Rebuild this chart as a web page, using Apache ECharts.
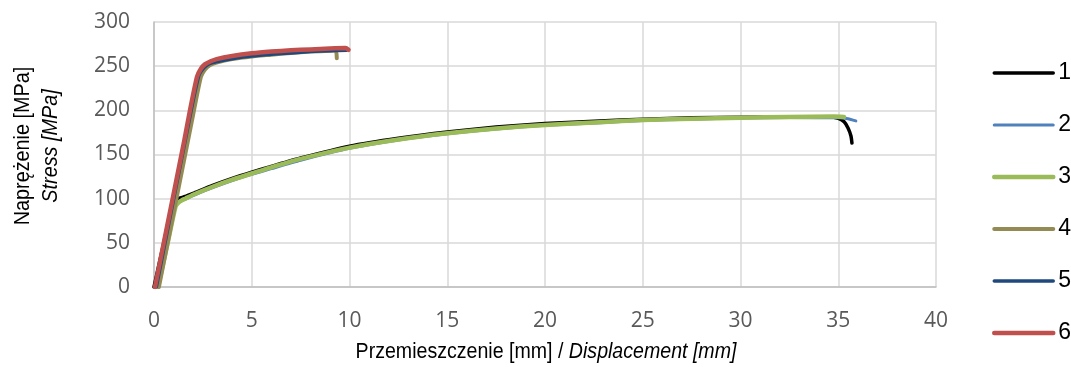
<!DOCTYPE html>
<html>
<head>
<meta charset="utf-8">
<script src="https://cdn.jsdelivr.net/npm/echarts@6/dist/echarts.min.js"></script>
<style>
html,body{margin:0;padding:0;background:#fff;}
#chart{width:1071px;height:367px;}
</style>
</head>
<body>
<div id="chart"></div>
<script>
// ---- Data (displacement [mm], stress [MPa]) ----
const seriesNames = ['1', '2', '3', '4', '5', '6'];
const xTicks = [0, 5, 10, 15, 20, 25, 30, 35, 40];
const yTicks = [0, 50, 100, 150, 200, 250, 300];

const sample1 = [[0,0],[0.5,50],[0.95,95],[1.1,98.5],[1.3,100.5],[1.6,102.5],[2,106],[3,115],[4,123],[5,130],[6,136.5],[7.5,146],[10,159.5],[12.5,168.5],[15,175.5],[17.5,181],[20,185],[22.8,188],[25,190],[27.5,191.5],[30,192.2],[32.5,192.6],[34.5,192.5],[35,191],[35.3,187],[35.5,180],[35.65,171],[35.7,163]];
const sample2 = [[0.1,0],[0.6,52],[1.05,92],[1.2,95.5],[1.4,98],[1.6,99.5],[2,103.5],[3,112.5],[4,120.5],[5,127.5],[6,134],[7.5,143.5],[10,157],[12.5,166.5],[15,173.5],[17.5,179],[20,183],[22.8,186],[25,188.5],[27.5,190],[30,191.2],[32.5,191.8],[35,191.5],[35.5,190.5],[35.9,188]];
const sample3 = [[0.2,0],[0.7,50],[1.1,91],[1.25,95.5],[1.45,98.5],[1.6,100],[2,104.5],[3,113.5],[4,121.5],[5,128.5],[6,135.5],[7.5,145],[10,157.8],[12.5,167],[15,174],[17.5,179.5],[20,183.5],[22.8,186.5],[25,189],[27.5,190.5],[30,191.7],[32.5,192.4],[34.8,192.9],[35.3,192.5]];
const sample4 = [[0.25,0],[2.0,195],[2.4,238],[2.6,246],[2.85,251],[3.2,254],[4,258],[5,261],[6,263],[7,265],[8,266.5],[9,267.5],[9.3,268],[9.35,259]];
const sample5 = [[0.12,0],[1.9,200],[2.3,240],[2.5,247],[2.7,251],[3,254],[3.5,256.5],[4,258.5],[5,261.5],[6,263.5],[7,265],[8,266.5],[9,267.5],[9.85,268]];
const sample6 = [[0.05,0],[0.5,50],[1,105],[1.55,166],[1.84,200],[2.2,238],[2.4,247],[2.6,252],[2.9,255.5],[3.2,258],[4,261.5],[5,264.5],[6,266.5],[7,268],[8,269],[9,270],[9.8,270.5],[9.95,268.5]];

const seriesData = [sample1, sample2, sample3, sample4, sample5, sample6];
const colors = ['#000000', '#4f81bd', '#9bbb59', '#948a54', '#1f497d', '#c0504d'];
const widths = [3.5, 3, 4.5, 4, 3.5, 4.5];

const chart = echarts.init(document.getElementById('chart'), null, {renderer: 'canvas'});
const tickFont = {fontFamily: 'Open Sans', fontSize: 21, color: '#595959'};
const titleFont = 'Liberation Sans, Arial, sans-serif';

chart.setOption({
  animation: false,
  backgroundColor: '#ffffff',
  grid: {left: 154, right: 135, top: 22, bottom: 80, containLabel: false},
  legend: {
    orient: 'vertical',
    left: 992,
    top: 61,
    padding: 0,
    itemWidth: 59,
    itemHeight: 14,
    itemGap: 28,
    data: seriesNames,
    itemStyle: {opacity: 0},
    lineStyle: {width: 'inherit', cap: 'round'},
    textStyle: {fontFamily: 'Liberation Sans', fontSize: 23, lineHeight: 24, color: '#000000', padding: [0,0,0,0]}
  },
  xAxis: {
    type: 'value', min: xTicks[0], max: xTicks[xTicks.length-1], interval: 5,
    axisLine: {show: true, onZero: false, lineStyle: {color: '#bfbfbf', width: 1.5}},
    axisTick: {show: false},
    axisLabel: Object.assign({margin: 24}, tickFont),
    splitLine: {show: true, lineStyle: {color: '#d9d9d9', width: 1.5}}
  },
  yAxis: {
    type: 'value', min: yTicks[0], max: yTicks[yTicks.length-1], interval: 50,
    axisLine: {show: true, lineStyle: {color: '#bfbfbf', width: 1.5}},
    axisTick: {show: false},
    axisLabel: Object.assign({margin: 24}, tickFont),
    splitLine: {show: true, lineStyle: {color: '#d9d9d9', width: 1.5}}
  },
  graphic: [
    {
      type: 'text', x: 37, y: 146, rotation: Math.PI/2, scaleX: 0.9,
      style: {
        text: '{n|Naprężenie [MPa]}\n{i|Stress [MPa]}',
        align: 'center', verticalAlign: 'middle',
        rich: {
          n: {fontFamily: titleFont, fontSize: 22, lineHeight: 28, fill: '#000', fontStyle: 'normal'},
          i: {fontFamily: titleFont, fontSize: 22, lineHeight: 28, fill: '#000', fontStyle: 'italic'}
        }
      }
    },
    {
      type: 'text', x: 546, y: 352, scaleX: 0.89,
      style: {
        text: '{n|Przemieszczenie [mm] / }{i|Displacement [mm]}',
        align: 'center', verticalAlign: 'middle',
        rich: {
          n: {fontFamily: titleFont, fontSize: 22, fill: '#000', fontStyle: 'normal'},
          i: {fontFamily: titleFont, fontSize: 22, fill: '#000', fontStyle: 'italic'}
        }
      }
    }
  ],
  series: seriesNames.map((name, i) => ({
    name: name,
    type: 'line',
    data: seriesData[i],
    symbol: 'none',
    smooth: 0.2,
    color: colors[i],
    lineStyle: {color: colors[i], width: widths[i], cap: 'round', join: 'round'},
    z: 2 + i
  }))
});
</script>
</body>
</html>
